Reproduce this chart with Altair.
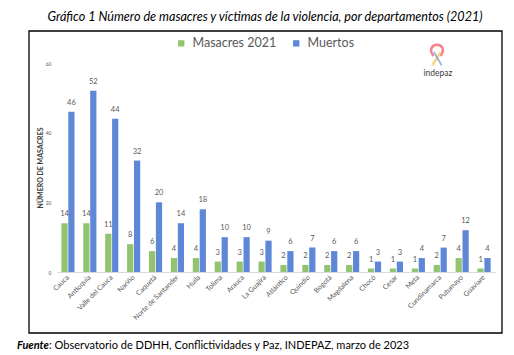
import altair as alt
import pandas as pd

departamentos = ["Cauca", "Antioquia", "Valle del Cauca", "Nariño", "Caquetá",
                 "Norte de Santander", "Huila", "Tolima", "Arauca", "La Guajira",
                 "Atlántico", "Quindío", "Bogotá", "Magdalena", "Chocó", "Cesar",
                 "Meta", "Cundinamarca", "Putumayo", "Guaviare"]
masacres = [14, 14, 11, 8, 6, 4, 4, 3, 3, 3, 2, 2, 2, 2, 1, 1, 1, 2, 4, 1]
muertos = [46, 52, 44, 32, 20, 14, 18, 10, 10, 9, 6, 7, 6, 6, 3, 3, 4, 7, 12, 4]
series = ["Masacres 2021", "Muertos"]
colores = ["#92C470", "#5E87D8"]

rows = []
for d, m, v in zip(departamentos, masacres, muertos):
    rows.append({"dept": d, "serie": series[0], "valor": m})
    rows.append({"dept": d, "serie": series[1], "valor": v})
df = pd.DataFrame(rows)

FONT = "Lato"
GRAY = "#595959"

x_enc = alt.X("dept:N", sort=departamentos, title=None,
              scale=alt.Scale(paddingInner=0.4, paddingOuter=0.2),
              axis=alt.Axis(labelAngle=-45, labelFontSize=7, labelColor=GRAY,
                            labelPadding=4, ticks=False, domainColor="#d9d9d9",
                            labelFont=FONT, labelAlign="right", labelBaseline="middle"))
xo_enc = alt.XOffset("serie:N", sort=series, scale=alt.Scale(paddingInner=0.1))
y_enc = alt.Y("valor:Q", scale=alt.Scale(domain=[0, 60]),
              axis=alt.Axis(values=[0, 10, 20, 30, 40, 50, 60], grid=False, domain=False,
                            ticks=False, labelFontSize=5, labelColor=GRAY, labelPadding=6,
                            title="NÚMERO DE MASACRES", titleFontSize=7, titleColor="#404040",
                            titleFontWeight="bold", titleX=-17, titleY=104.5,
                            titleBaseline="middle", titleFont=FONT, labelFont=FONT))

base = alt.Chart(df)
bars = base.mark_bar().encode(
    x=x_enc, xOffset=xo_enc, y=y_enc,
    color=alt.Color("serie:N", sort=series,
                    scale=alt.Scale(domain=series, range=colores),
                    legend=alt.Legend(title=None, orient="none", legendX=118, legendY=-26,
                                      direction="horizontal", symbolType="square",
                                      symbolSize=40, labelFontSize=12.5, labelColor=GRAY,
                                      labelFont=FONT, columnPadding=13, labelOffset=5,
                                      symbolStrokeWidth=0))
)
labels = base.mark_text(dy=-5, fontSize=7.5, color=GRAY, font=FONT, baseline="bottom").encode(
    x=alt.X("dept:N", sort=departamentos), xOffset=alt.XOffset("serie:N", sort=series),
    y="valor:Q", text="valor:Q"
)

one = alt.Data(values=[{"a": 1}])

frame = alt.Chart(one).mark_rect(fill="transparent", stroke="black", strokeWidth=1.3).encode(
    x=alt.value(-28), x2=alt.value(445), y=alt.value(-32), y2=alt.value(270))

title = alt.Chart(one).mark_text(
    text="Gráfico 1 Número de masacres y víctimas de la violencia, por departamentos (2021)",
    fontStyle="italic", fontSize=12.6, font=FONT, color="black", align="center", baseline="middle"
).encode(x=alt.value(208), y=alt.value(-46))

foot1 = alt.Chart(one).mark_text(
    text="Fuente", fontStyle="italic", fontWeight="bold", fontSize=11, font=FONT,
    color="black", align="left", baseline="middle"
).encode(x=alt.value(-40), y=alt.value(283))
foot2 = alt.Chart(one).mark_text(
    text=": Observatorio de DDHH, Conflictividades y Paz, INDEPAZ, marzo de 2023",
    fontSize=11, font=FONT, color="black", align="left", baseline="middle"
).encode(x=alt.value(-8), y=alt.value(283))

logo_txt = alt.Chart(one).mark_text(
    text="indepaz", fontSize=8.5, font=FONT, color="#404040", align="center", baseline="middle"
).encode(x=alt.value(381), y=alt.value(10))
loop = alt.Chart(one).mark_point(
    shape="M -0.35 0.1 C -0.8 -0.5 -0.5 -1 0 -1 C 0.5 -1 0.8 -0.5 0.35 0.1",
    filled=False, stroke="#F0505A", strokeWidth=2.5, size=420
).encode(x=alt.value(380), y=alt.value(-8))
tail1 = alt.Chart(one).mark_point(
    shape="M 0.35 -0.3 L -0.45 1", filled=False, stroke="#F3C64A", strokeWidth=2.5, size=420
).encode(x=alt.value(380), y=alt.value(-8))
tail2 = alt.Chart(one).mark_point(
    shape="M -0.3 -0.3 L 0.45 1", filled=False, stroke="#6E9AD8", strokeWidth=1.8, size=420
).encode(x=alt.value(380), y=alt.value(-8))

chart = alt.layer(bars, labels, frame, title, foot1, foot2, loop, tail1, tail2, logo_txt).properties(
    width=438, height=209,
    autosize=alt.AutoSizeParams(type="none"),
    padding={"left": 57, "top": 63, "right": 19, "bottom": 83},
    background="white",
).configure_view(strokeWidth=0)

chart.save("out.html", embed_options={"renderer": "svg", "actions": False})
